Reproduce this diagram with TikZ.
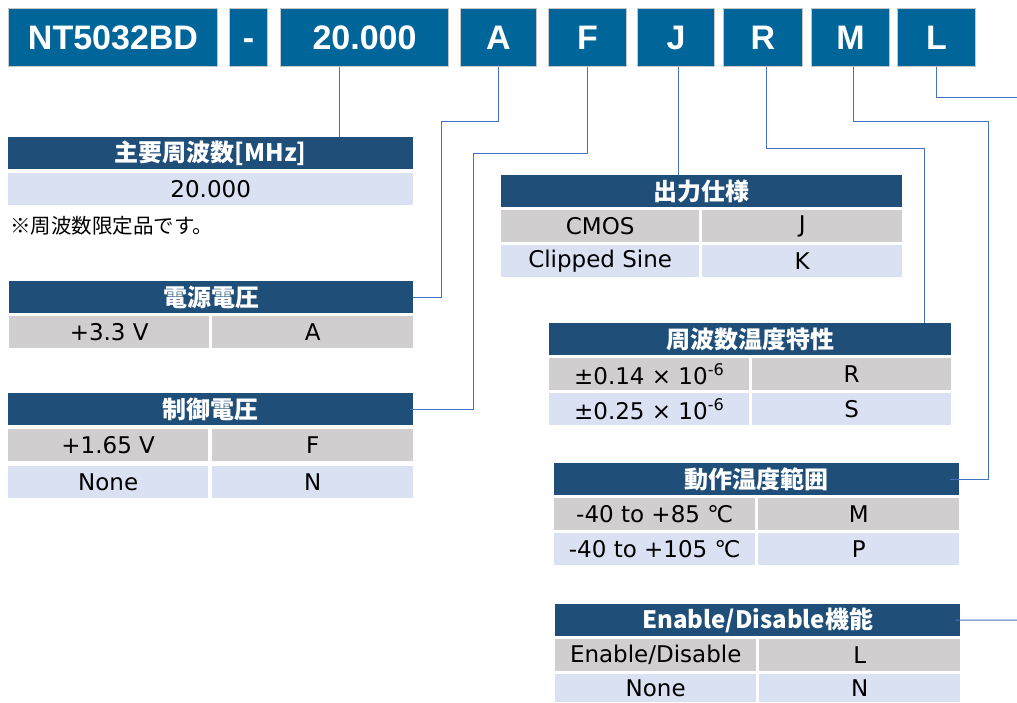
\documentclass[tikz,border=0pt]{standalone}
\usepackage{fontspec}
\setmainfont{Noto Sans CJK JP}
\newfontfamily\keyfont{Liberation Sans}
\newfontfamily\cellfont{DejaVu Sans}
\definecolor{keyblue}{HTML}{00669A}
\definecolor{headblue}{HTML}{1F4E79}
\definecolor{rowgray}{HTML}{D0CECE}
\definecolor{rowblue}{HTML}{D9E1F2}
\definecolor{linkblue}{HTML}{4472C4}

\begin{document}
\begin{tikzpicture}[x=1pt,y=-1pt,
    every node/.style={anchor=north west,inner sep=0,minimum height=32pt},
    key/.style={fill=keyblue,draw=gray!45,line width=1pt,text=white,minimum height=58pt,
      text height=24.3pt,text depth=0pt,font=\keyfont\bfseries\fontsize{34}{34}\selectfont},
    head/.style={fill=headblue,text=white,font=\bfseries\fontsize{24}{24}\selectfont},
    gcell/.style={fill=rowgray,font=\cellfont\fontsize{23}{23}\selectfont},
    bcell/.style={fill=rowblue,font=\cellfont\fontsize{23}{23}\selectfont},
    link/.style={draw=linkblue,line width=1pt}]
        \useasboundingbox (0,0) rectangle (1017,702);
        % part number
        \node[key,minimum width=209pt] (kPN) at (8,8) {NT5032BD};
        \node[key,minimum width=38pt] (kDash) at (229,8) {-};
        \node[key,minimum width=168pt] (kFreq) at (280,8) {20.000};
        \node[key,minimum width=76pt] (kA) at (460,8) {A};
        \node[key,minimum width=78pt] (kF) at (548,8) {F};
        \node[key,minimum width=77pt] (kJ) at (637,8) {J};
        \node[key,minimum width=79pt] (kR) at (723,8) {R};
        \node[key,minimum width=78pt] (kM) at (811,8) {M};
        \node[key,minimum width=78pt] (kL) at (897,8) {L};
        % frequency
        \node[head,minimum width=405pt] (hfreq) at (8,137) {主要周波数[MHz]};
        \node[bcell,minimum width=405pt] (vfreq) at (8,173) {20.000};
        \node[anchor=west,font=\fontsize{20.5}{20.5}\selectfont] (note) at (10,226) {※周波数限定品です。};
        % supply voltage
        \node[head,minimum width=404pt] (hvolt) at (9,281) {電源電圧};
        \node[gcell,minimum width=200pt] (volt1) at (9,316) {+3.3 V};
        \node[gcell,minimum width=201pt] (volt1c) at (212,316) {A};
        % control voltage
        \node[head,minimum width=405pt] (hctrl) at (8,393) {制御電圧};
        \node[gcell,minimum width=200pt] (ctrl1) at (8,429) {+1.65 V};
        \node[gcell,minimum width=201pt] (ctrl1c) at (212,429) {F};
        \node[bcell,minimum width=200pt] (ctrl2) at (8,466) {None};
        \node[bcell,minimum width=201pt] (ctrl2c) at (212,466) {N};
        % output
        \node[head,minimum width=401pt] (hout) at (501,175) {出力仕様};
        \node[gcell,minimum width=198pt] (out1) at (501,210) {CMOS};
        \node[gcell,minimum width=200pt] (out1c) at (702,210) {J};
        \node[bcell,minimum width=198pt] (out2) at (501,245) {Clipped Sine};
        \node[bcell,minimum width=200pt] (out2c) at (702,245) {K};
        % stability
        \node[head,minimum width=402pt] (htemp) at (549,323) {周波数温度特性};
        \node[gcell,minimum width=200pt] (temp1) at (549,358) {±0.14 × 10\textsuperscript{-6}};
        \node[gcell,minimum width=199pt] (temp1c) at (752,358) {R};
        \node[bcell,minimum width=200pt] (temp2) at (549,393) {±0.25 × 10\textsuperscript{-6}};
        \node[bcell,minimum width=199pt] (temp2c) at (752,393) {S};
        % operating range
        \node[head,minimum width=405pt] (hrange) at (554,463) {動作温度範囲};
        \node[gcell,minimum width=201pt] (range1) at (554,498) {-40 to +85 ℃};
        \node[gcell,minimum width=201pt] (range1c) at (758,498) {M};
        \node[bcell,minimum width=201pt] (range2) at (554,533) {-40 to +105 ℃};
        \node[bcell,minimum width=201pt] (range2c) at (758,533) {P};
        % enable/disable
        \node[head,minimum width=405pt] (hen) at (555,604) {Enable/Disable機能};
        \node[gcell,minimum width=201pt] (en1) at (555,639) {Enable/Disable};
        \node[gcell,minimum width=201pt] (en1c) at (759,639) {L};
        \node[bcell,minimum width=201pt,minimum height=28pt] (en2) at (555,674) {None};
        \node[bcell,minimum width=201pt,minimum height=28pt] (en2c) at (759,674) {N};
        % links
        \coordinate (offL) at (1017,97);
        \coordinate (offE) at (1017,620);
        \draw[link] ([xshift=-25pt]kFreq.south) -- ([xshift=-25pt]kFreq.south |- hfreq.north);
        \draw[link] (kA.south) -- (kA.south |- 0,121) -| ([xshift=28pt]hvolt.east) -- (hvolt.east);
        \draw[link] (kF.south) -- (kF.south |- 0,153) -| ([xshift=60pt]hctrl.east) -- ([xshift=-3pt]hctrl.east);
        \draw[link] ([xshift=2pt]kJ.south) -- ([xshift=2pt]kJ.south |- hout.north);
        \draw[link] ([xshift=3pt]kR.south) -- ([xshift=3pt]kR.south |- 0,148) -| ([xshift=-27pt]htemp.north east);
        \draw[link] ([xshift=3pt]kM.south) -- ([xshift=3pt]kM.south |- 0,121) -| ([xshift=29pt]hrange.east) -- ([xshift=-9pt]hrange.east);
        \draw[link] (kL.south) |- (offL);
        \draw[link] ([xshift=-5pt]hen.east) -- (offE);
      \end{tikzpicture}
\end{document}
